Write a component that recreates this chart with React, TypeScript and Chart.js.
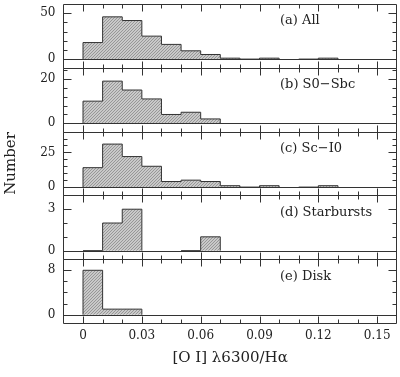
import React, { useEffect, useRef } from 'react';
import { Chart, registerables } from 'chart.js';

Chart.register(...registerables);

// ---- data ----
const binWidth = 0.01;
const panelLabels = ['(a) All', '(b) S0\u2212Sbc', '(c) Sc\u2212I0', '(d) Starbursts', '(e) Disk'];
const countsAll = [18, 46, 42, 25, 16, 9, 5, 1, 0, 1, 0, 0, 1];
const countsS0Sbc = [10, 19, 15, 11, 4, 5, 2];
const countsScI0 = [14, 31, 22, 15, 4, 5, 4, 1, 0, 1, 0, 0, 1];
const countsStarbursts = [0, 2, 3, 0, 0, 0, 1];
const countsDisk = [8, 1, 1];
const yTicksA = [0, 50];
const yTicksB = [0, 20];
const yTicksC = [0, 25];
const yTicksD = [0, 3];
const yTicksE = [0, 8];
const yMinorA = 10;
const yMinorB = 4;
const yMinorC = 5;
const yMinorD = 1;
const yMinorE = 2;
const xTickValues = [0, 0.03, 0.06, 0.09, 0.12, 0.15];
const xTickLabels = ['0', '0.03', '0.06', '0.09', '0.12', '0.15'];
const xMinorStep = 0.01;
const xTitle = '[O I] \u03bb6300/H\u03b1';
const yTitle = 'Number';

const FONT = '"DejaVu Serif", serif';
const TEXT = '#222';
const LINE = '#333';

function stepPoints(counts: number[]) {
  const pts: { x: number; y: number }[] = [{ x: 0, y: 0 }];
  counts.forEach((c, i) => pts.push({ x: i * binWidth, y: c }));
  pts.push({ x: counts.length * binWidth, y: 0 });
  return pts;
}

export default function App() {
  const ref = useRef<HTMLCanvasElement | null>(null);

  useEffect(() => {
    const canvas = ref.current;
    if (!canvas) return;
    const ctx = canvas.getContext('2d')!;

    const pc = document.createElement('canvas');
    pc.width = 3;
    pc.height = 3;
    const g = pc.getContext('2d')!;
    g.fillStyle = '#c9c9c9';
    g.fillRect(0, 0, 3, 3);
    g.fillStyle = '#979797';
    g.fillRect(0, 2, 1, 1);
    g.fillRect(1, 1, 1, 1);
    g.fillRect(2, 0, 1, 1);
    const pattern = ctx.createPattern(pc, 'repeat')!;

    const panels = [
      { id: 'ya', counts: countsAll, ticks: yTicksA, minor: yMinorA, min: -9.5, max: 60, label: panelLabels[0] },
      { id: 'yb', counts: countsS0Sbc, ticks: yTicksB, minor: yMinorB, min: -3.7, max: 25, label: panelLabels[1] },
      { id: 'yc', counts: countsScI0, ticks: yTicksC, minor: yMinorC, min: -6, max: 40, label: panelLabels[2] },
      { id: 'yd', counts: countsStarbursts, ticks: yTicksD, minor: yMinorD, min: -0.62, max: 4, label: panelLabels[3] },
      { id: 'ye', counts: countsDisk, ticks: yTicksE, minor: yMinorE, min: -1.5, max: 10, label: panelLabels[4] },
    ];

    const scales: any = {
      x: {
        type: 'linear',
        min: -0.01,
        max: 0.16,
        afterBuildTicks: (s: any) => {
          s.ticks = xTickValues.map((v) => ({ value: v }));
        },
        afterFit: (s: any) => {
          s.height = 54;
          s.paddingLeft = 0;
          s.paddingRight = 0;
        },
        ticks: {
          autoSkip: false,
          maxRotation: 0,
          padding: 6,
          color: TEXT,
          font: { family: FONT, size: 12 },
          callback: (v: number) => {
            const i = xTickValues.findIndex((t) => Math.abs(t - v) < 1e-9);
            return i >= 0 ? xTickLabels[i] : '';
          },
        },
        grid: { display: false, drawTicks: false },
        border: { display: false },
      },
    };
    panels.forEach((p, k) => {
      scales[p.id] = {
        type: 'linear',
        position: 'left',
        stack: 'panels',
        stackWeight: 1,
        weight: 10 - k,
        min: p.min,
        max: p.max,
        afterBuildTicks: (s: any) => {
          s.ticks = p.ticks.map((v) => ({ value: v }));
        },
        afterFit: (s: any) => {
          s.width = 63.4;
          s.paddingTop = 0;
          s.paddingBottom = 0;
        },
        ticks: {
          padding: 8,
          color: TEXT,
          font: { family: FONT, size: 12 },
          callback: (v: number) => String(v),
        },
        grid: { display: false, drawTicks: false },
        border: { display: false },
      };
    });

    const framePlugin = {
      id: 'frames',
      afterDatasetsDraw(chart: any) {
        const c = chart.ctx;
        const ca = chart.chartArea;
        const xs = chart.scales.x;
        const L = Math.round(ca.left) + 0.5;
        const R = Math.round(ca.right) - 0.5;
        c.save();
        c.strokeStyle = LINE;
        c.lineWidth = 1;
        panels.forEach((p) => {
          const ys = chart.scales[p.id];
          const T = Math.round(ys.top) + 0.5;
          const B = Math.round(ys.bottom) + 0.5;
          c.beginPath();
          c.rect(L, T, R - L, B - T);
          const y0 = Math.round(ys.getPixelForValue(0)) + 0.5;
          c.moveTo(L, y0);
          c.lineTo(R, y0);
          // y ticks
          for (let v = 0; v <= p.max + 1e-9; v += p.minor) {
            const py = Math.round(ys.getPixelForValue(v)) + 0.5;
            if (py < T + 2) continue;
            const major = p.ticks.some((t) => Math.abs(t - v) < 1e-9);
            const len = major ? 8 : 4;
            c.moveTo(L, py);
            c.lineTo(L + len, py);
            c.moveTo(R, py);
            c.lineTo(R - len, py);
          }
          // x ticks
          for (let i = 0; i * xMinorStep <= 0.15 + 1e-9; i++) {
            const v = i * xMinorStep;
            const px = Math.round(xs.getPixelForValue(v)) + 0.5;
            const major = xTickValues.some((t) => Math.abs(t - v) < 1e-9);
            const len = major ? 7 : 4;
            c.moveTo(px, T);
            c.lineTo(px, T + len);
            c.moveTo(px, B);
            c.lineTo(px, B - len);
          }
          c.stroke();
          c.fillStyle = TEXT;
          c.font = '13px ' + FONT;
          c.textAlign = 'left';
          c.textBaseline = 'middle';
          c.fillText(p.label, 280, ys.top + 17);
        });
        // titles
        c.fillStyle = TEXT;
        c.font = '15px ' + FONT;
        c.textAlign = 'center';
        c.textBaseline = 'alphabetic';
        c.fillText(xTitle, (ca.left + ca.right) / 2, 362);
        const yc = chart.scales.yc;
        c.translate(14.5, (yc.top + yc.bottom) / 2);
        c.rotate(-Math.PI / 2);
        c.fillText(yTitle, 0, 0);
        c.restore();
      },
    };

    const chart = new Chart(ctx, {
      type: 'line',
      data: {
        datasets: panels.map((p) => ({
          label: p.label,
          data: stepPoints(p.counts),
          yAxisID: p.id,
          xAxisID: 'x',
          stepped: 'before',
          fill: 'origin',
          backgroundColor: pattern,
          borderColor: LINE,
          borderWidth: 1,
          pointRadius: 0,
          tension: 0,
          segment: {
            borderColor: (sc: any) =>
              sc.p0.parsed.y === 0 && sc.p1.parsed.y === 0 ? 'rgba(0,0,0,0)' : undefined,
          },
        })) as any,
      },
      options: {
        animation: false,
        responsive: false,
        parsing: false as any,
        layout: { padding: { top: 4, right: 3.2, left: 0, bottom: 0 } },
        plugins: { legend: { display: false }, tooltip: { enabled: false } },
        scales,
      } as any,
      plugins: [framePlugin],
    });
    return () => chart.destroy();
  }, []);

  return (
    <div style={{ position: 'fixed', left: 0, top: 0, width: 400, height: 377, background: '#fff' }}>
      <canvas ref={ref} width={400} height={377} style={{ width: 400, height: 377, display: 'block' }} />
    </div>
  );
}
